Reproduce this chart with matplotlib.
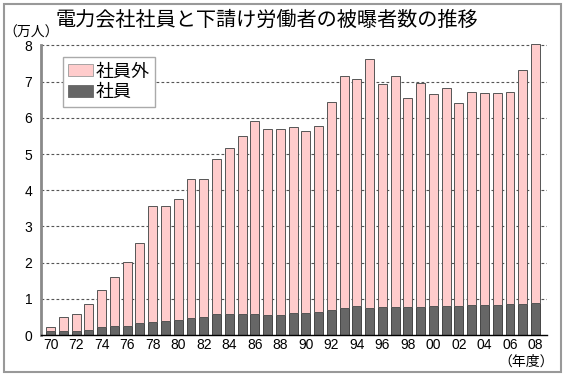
import matplotlib
matplotlib.use("Agg")
import matplotlib.pyplot as plt
from matplotlib.patches import Rectangle, Patch
import numpy as np

plt.rcParams['font.family'] = ['Noto Sans CJK JP', 'DejaVu Sans']

years = ['70', '71', '72', '73', '74', '75', '76', '77', '78', '79',
         '80', '81', '82', '83', '84', '85', '86', '87', '88', '89',
         '90', '91', '92', '93', '94', '95', '96', '97', '98', '99',
         '00', '01', '02', '03', '04', '05', '06', '07', '08']

# 社員 (employees), 万人
employees = [0.12, 0.12, 0.11, 0.14, 0.21, 0.24, 0.26, 0.33, 0.36, 0.39,
             0.42, 0.48, 0.50, 0.57, 0.58, 0.58, 0.58, 0.55, 0.55, 0.60,
             0.61, 0.64, 0.69, 0.75, 0.80, 0.75, 0.77, 0.78, 0.77, 0.78,
             0.80, 0.79, 0.80, 0.82, 0.83, 0.83, 0.85, 0.85, 0.88]

# 社員外 (subcontract workers), 万人
non_employees = [0.11, 0.39, 0.47, 0.72, 1.03, 1.37, 1.75, 2.22, 3.21, 3.18,
                 3.33, 3.83, 3.81, 4.28, 4.60, 4.91, 5.34, 5.13, 5.13, 5.14,
                 5.02, 5.13, 5.75, 6.40, 6.26, 6.87, 6.16, 6.38, 5.77, 6.18,
                 5.85, 6.03, 5.62, 5.88, 5.85, 5.85, 5.87, 6.46, 7.17]

y_ticks = [0, 1, 2, 3, 4, 5, 6, 7, 8]

title = '電力会社社員と下請け労働者の被曝者数の推移'
legend_labels = ['社員外', '社員']
unit_label = '（万人）'
year_label = '（年度）'

pink = '#FFCCCC'
dark = '#666666'

fig = plt.figure(figsize=(5.66, 3.76), dpi=100)
ax = fig.add_axes([0.0719, 0.109, 0.8945, 0.7798])

x = np.arange(len(years))
ax.bar(x, employees, width=0.7, color=dark, edgecolor='#444444', linewidth=0.7, zorder=3)
ax.bar(x, non_employees, bottom=employees, width=0.7, color=pink,
       edgecolor='#555555', linewidth=0.7, zorder=3)

ax.set_xlim(-0.78, len(years) - 1 + 0.9)
ax.set_ylim(0, 8.1)
ax.set_yticks(y_ticks)
ax.set_yticklabels([str(v) for v in y_ticks], family='Liberation Sans', fontsize=10)
ax.set_xticks(x[::2])
ax.set_xticklabels(years[::2], family='Liberation Sans', fontsize=10)
ax.tick_params(axis='both', length=0)
ax.tick_params(axis='y', pad=6)
ax.tick_params(axis='x', pad=2)

for v in y_ticks[1:]:
    ax.axhline(v, color='#555555', linewidth=0.8, linestyle=(0, (2.5, 2)), zorder=1)

for s in ['top', 'right']:
    ax.spines[s].set_visible(False)
ax.spines['left'].set_color('#8a8a8a')
ax.spines['left'].set_linewidth(2)
ax.spines['left'].set_bounds(0, 8)
ax.spines['bottom'].set_color('black')
ax.spines['bottom'].set_linewidth(1)
ax.spines['bottom'].set_zorder(4)

handles = [Patch(facecolor=pink, edgecolor='#999999', linewidth=0.6),
           Patch(facecolor=dark, edgecolor=dark, linewidth=0.6)]
leg = ax.legend(handles, legend_labels, loc='upper left', bbox_to_anchor=(0.0435, 0.948),
                borderaxespad=0, fontsize=13, handlelength=1.4, handleheight=0.6,
                handletextpad=0.1, labelspacing=0.15, borderpad=0.3,
                fancybox=False, framealpha=1, edgecolor='#aaaaaa')
leg.get_frame().set_linewidth(1)

fig.text(0.471, 0.946, title, ha='center', va='center', fontsize=14.5)
fig.text(0.006, 0.912, unit_label, ha='left', va='center', fontsize=10)
fig.text(0.978, 0.038, year_label, ha='right', va='center', fontsize=10)

fig.patches.append(Rectangle((0.007, 0.01), 0.984, 0.98, transform=fig.transFigure,
                             fill=False, edgecolor='#999999', linewidth=1.5))

fig.savefig('out.png', dpi=100)
